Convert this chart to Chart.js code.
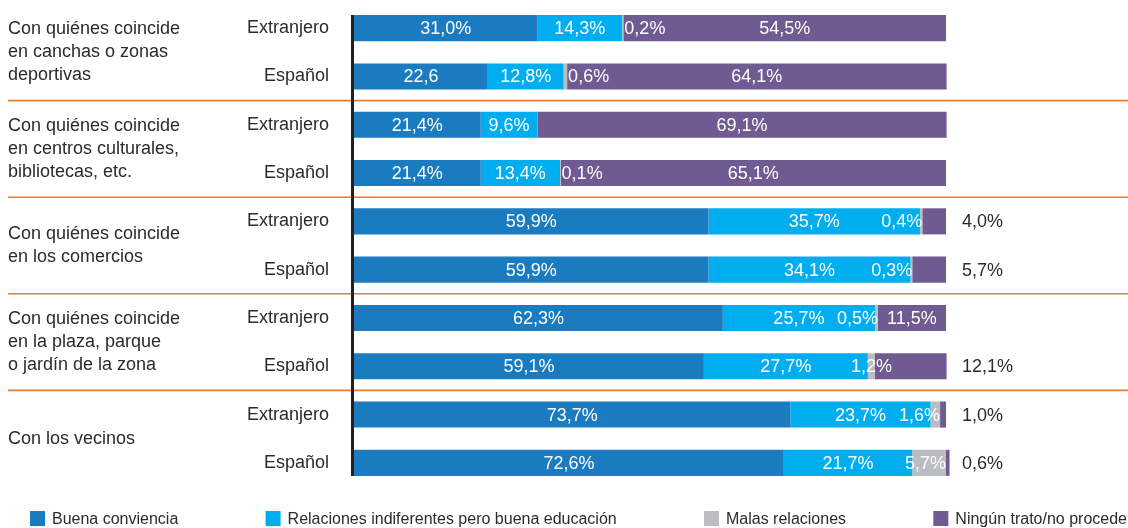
<!DOCTYPE html>
<html lang="es">
<head>
  <meta charset="UTF-8">
  <title>Relaciones con vecinos</title>
  <script src="https://cdn.jsdelivr.net/npm/chart.js"></script>
  <style>
    body {
      margin: 0;
      background: #fff;
      overflow: hidden;
    }
    .wrap {
      position: relative;
      width: 1128px;
      height: 528px;
    }
  </style>
</head>
<body>
  <div class="wrap">
    <canvas id="grafico"></canvas>
  </div>

  <script>
    // filas: una por barra
    const filas = ['Extranjero', 'Español', 'Extranjero', 'Español', 'Extranjero',
                   'Español', 'Extranjero', 'Español', 'Extranjero', 'Español'];
    const grupos = [
      ['Con quiénes coincide', 'en canchas o zonas', 'deportivas'],
      ['Con quiénes coincide', 'en centros culturales,', 'bibliotecas, etc.'],
      ['Con quiénes coincide', 'en los comercios'],
      ['Con quiénes coincide', 'en la plaza, parque', 'o jardín de la zona'],
      ['Con los vecinos']
    ];
    const series = ['Buena conviencia', 'Relaciones indiferentes pero buena educación',
                    'Malas relaciones', 'Ningún trato/no procede'];

    const buena = [31.0, 22.6, 21.4, 21.4, 59.9, 59.9, 62.3, 59.1, 73.7, 72.6];
    const indiferentes = [14.3, 12.8, 9.6, 13.4, 35.7, 34.1, 25.7, 27.7, 23.7, 21.7];
    const malas = [0.2, 0.6, 0, 0.1, 0.4, 0.3, 0.5, 1.2, 1.6, 5.7];
    const ningun = [54.5, 64.1, 69.1, 65.1, 4.0, 5.7, 11.5, 12.1, 1.0, 0.6];

    // en el original esta etiqueta aparece sin el signo %
    const textoEspecial = { '0-1': '22,6' };

    const colores = ['#1b7bc1', '#00aeef', '#bcbdc0', '#6f5a91'];
    const oscuro = '#2b2b2b';
    const fuente = '"Liberation Sans", Arial, sans-serif';

    Chart.defaults.font.family = fuente;

    function texto(i, j, v) {
      return textoEspecial[i + '-' + j] || v.toFixed(1).replace('.', ',') + '%';
    }

    const etiquetas = {
      id: 'etiquetas',
      afterDatasetsDraw(chart) {
        const ctx = chart.ctx;
        const area = chart.chartArea;
        ctx.save();
        ctx.font = '18px ' + fuente;
        ctx.textBaseline = 'middle';
        chart.data.datasets.forEach((ds, i) => {
          const meta = chart.getDatasetMeta(i);
          meta.data.forEach((bar, j) => {
            const v = ds.data[j];
            if (!v) return;
            const x0 = Math.min(bar.base, bar.x);
            const x1 = Math.max(bar.base, bar.x);
            const sig = chart.getDatasetMeta(3).data[j];
            const anchoSig = Math.abs(sig.x - sig.base);
            // la etiqueta de "ningún trato" sale fuera si es estrecha o si la de "malas" la invade
            const fuera = anchoSig < 60 || malas[j] >= 1;
            let x = (x0 + x1) / 2, align = 'center', color = '#fff';
            if (i === 2) {
              if (anchoSig > 100) { x = x1 + 1; align = 'left'; }
              else if (fuera && anchoSig > 40) { x = (x0 + x1) / 2; }
              else { x = x1; align = 'right'; }
            } else if (i === 3 && fuera) {
              x = area.right + 16; align = 'left'; color = oscuro;
            }
            ctx.fillStyle = color;
            ctx.textAlign = align;
            ctx.fillText(texto(i, j, v), x, bar.y + 1);
          });
        });
        ctx.restore();
      }
    };

    const marco = {
      id: 'marco',
      afterDraw(chart) {
        const ctx = chart.ctx;
        const area = chart.chartArea;
        const y = chart.scales.y;
        const bars = chart.getDatasetMeta(0).data;
        ctx.save();

        // lineas naranjas entre grupos
        ctx.strokeStyle = '#ee7a35';
        ctx.lineWidth = 1.6;
        for (let g = 1; g < grupos.length; g++) {
          const yy = (y.getPixelForValue(2 * g - 1) + y.getPixelForValue(2 * g)) / 2;
          ctx.beginPath();
          ctx.moveTo(8, yy);
          ctx.lineTo(chart.width, yy);
          ctx.stroke();
        }

        // eje vertical
        const first = bars[0], last = bars[bars.length - 1];
        ctx.strokeStyle = '#231f20';
        ctx.lineWidth = 3;
        ctx.beginPath();
        ctx.moveTo(area.left - 1.5, first.y - first.height / 2);
        ctx.lineTo(area.left - 1.5, last.y + last.height / 2);
        ctx.stroke();

        ctx.fillStyle = oscuro;
        ctx.font = '18px ' + fuente;
        ctx.textBaseline = 'middle';

        // Extranjero / Español
        ctx.textAlign = 'right';
        filas.forEach((f, j) => ctx.fillText(f, area.left - 25, y.getPixelForValue(j)));

        // nombres de grupo
        ctx.textAlign = 'left';
        const lh = 23;
        grupos.forEach((lineas, g) => {
          const cy = (y.getPixelForValue(2 * g) + y.getPixelForValue(2 * g + 1)) / 2;
          const top = cy - (lineas.length - 1) * lh / 2;
          lineas.forEach((l, k) => ctx.fillText(l, 8, top + k * lh));
        });

        // leyenda
        ctx.font = '16px ' + fuente;
        const sq = 15, gapTxt = 7;
        const anchos = series.map(s => sq + gapTxt + ctx.measureText(s).width);
        const x0 = 30, x1 = 1127;
        const hueco = (x1 - x0 - anchos.reduce((a, b) => a + b, 0)) / (series.length - 1);
        let x = x0;
        const ly = 519;
        series.forEach((s, k) => {
          ctx.fillStyle = colores[k];
          ctx.fillRect(x, ly - 8, sq, sq);
          ctx.fillStyle = oscuro;
          ctx.fillText(s, x + sq + gapTxt, ly + 1);
          x += anchos[k] + hueco;
        });
        ctx.restore();
      }
    };

    const ctx = document.getElementById('grafico').getContext('2d');
    new Chart(ctx, {
      type: 'bar',
      data: {
        labels: filas,
        datasets: [buena, indiferentes, malas, ningun].map((d, k) => ({
          label: series[k],
          data: d,
          backgroundColor: colores[k],
          borderWidth: 0,
          barPercentage: 0.54,
          categoryPercentage: 1,
          clip: false
        }))
      },
      options: {
        indexAxis: 'y',
        responsive: true,
        maintainAspectRatio: false,
        animation: false,
        layout: { padding: { top: 4, right: 182, bottom: 41, left: 0 } },
        plugins: {
          legend: { display: false },
          tooltip: { enabled: false }
        },
        scales: {
          x: { stacked: true, min: 0, max: 100, display: false },
          y: {
            stacked: true,
            grid: { display: false, drawTicks: false },
            border: { display: false },
            ticks: { display: false },
            afterFit(scale) { scale.width = 354; }
          }
        }
      },
      plugins: [etiquetas, marco]
    });
  </script>
</body>
</html>
